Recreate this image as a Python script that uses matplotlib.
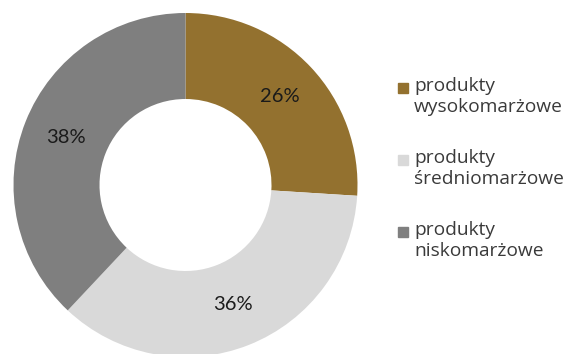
import matplotlib.pyplot as plt
from matplotlib.patches import Rectangle

categories = ['produkty\nwysokomarżowe', 'produkty\nśredniomarżowe', 'produkty\nniskomarżowe']
shares = [26, 36, 38]
colors = ['#93712F', '#D9D9D9', '#7F7F7F']

plt.rcParams['font.family'] = 'Open Sans'

W, H = 567, 354
fig = plt.figure(figsize=(W / 100, H / 100), dpi=100)

# donut: centre ~(185.5, 185) px, outer radius ~172 px
cx, cy, r = 185.5, 185, 172
ax = fig.add_axes([(cx - r) / W, (H - cy - r) / H, 2 * r / W, 2 * r / H])
wedges, texts, autotexts = ax.pie(
    shares, colors=colors, startangle=90, counterclock=False,
    wedgeprops=dict(width=0.5, linewidth=0),
    autopct='%d%%', pctdistance=0.75,
    textprops=dict(fontsize=14.5, color='#1a1a1a', family='Lato'))
ax.set_xlim(-1, 1)
ax.set_ylim(-1, 1)
ax.set_aspect('equal')

# legend drawn by hand so the square sits next to the first line
x_sq, x_txt = 398 / W, 414 / W
y0, step = 88, 72
for i, (lab, col) in enumerate(zip(categories, colors)):
    yc = y0 + i * step
    fig.patches.append(Rectangle((x_sq, 1 - (yc + 5) / H), 10 / W, 10 / H,
                                 transform=fig.transFigure, color=col))
    fig.text(x_txt, 1 - (yc - 11) / H, lab, fontsize=13.8, color='#3a3a3a',
             va='top', ha='left', linespacing=1.2)

fig.savefig('out.png', dpi=100)
